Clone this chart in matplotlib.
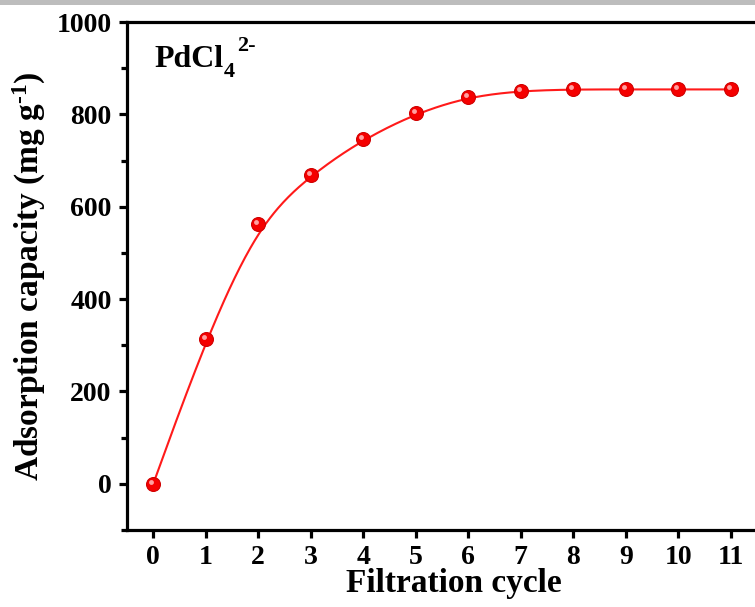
import numpy as np
import matplotlib.pyplot as plt
from matplotlib.patches import Rectangle
from matplotlib.ticker import MultipleLocator
import matplotlib.transforms as mtransforms

cycles = [0, 1, 2, 3, 4, 5, 6, 7, 8, 9, 10, 11]
capacity = [0, 313, 563, 669, 746, 802, 838, 851, 854, 854, 854, 854]


def bspline(px, py, n=40):
    # uniform cubic B-spline with the points as control points (Origin style smoothing)
    px = np.concatenate([[px[0]] * 2, px, [px[-1]] * 2]).astype(float)
    py = np.concatenate([[py[0]] * 2, py, [py[-1]] * 2]).astype(float)
    t = np.linspace(0, 1, n, endpoint=False)
    b0 = (1 - t) ** 3 / 6
    b1 = (3 * t ** 3 - 6 * t ** 2 + 4) / 6
    b2 = (-3 * t ** 3 + 3 * t ** 2 + 3 * t + 1) / 6
    b3 = t ** 3 / 6
    cx, cy = [], []
    for i in range(len(px) - 3):
        cx.append(b0 * px[i] + b1 * px[i + 1] + b2 * px[i + 2] + b3 * px[i + 3])
        cy.append(b0 * py[i] + b1 * py[i + 1] + b2 * py[i + 2] + b3 * py[i + 3])
    cx.append([px[-1]])
    cy.append([py[-1]])
    return np.concatenate(cx), np.concatenate(cy)


plt.rcParams['font.family'] = ['Liberation Serif', 'DejaVu Serif']
plt.rcParams['font.weight'] = 'bold'
plt.rcParams['mathtext.fontset'] = 'custom'
plt.rcParams['mathtext.rm'] = 'Liberation Serif:bold'
plt.rcParams['mathtext.bf'] = 'Liberation Serif:bold'
plt.rcParams['mathtext.default'] = 'bf'

fig = plt.figure(figsize=(7.55, 6.07), dpi=100)
fig.patches.append(Rectangle((0, 1 - 5 / 607), 1, 5 / 607, transform=fig.transFigure,
                             facecolor='#bdbdbd', edgecolor='none'))
ax = fig.add_axes([127 / 755, 1 - 530 / 607, 630 / 755, 508 / 607])

sx, sy = bspline(cycles, capacity)
ax.plot(sx, sy, color='#ff1a1a', lw=1.5, zorder=2)
ax.plot(cycles, capacity, 'o', ms=10, color='#f50000', mec='#d00000', mew=0.8, zorder=3)
hl = mtransforms.offset_copy(ax.transData, fig=fig, x=-1.5, y=1.5, units='points')
ax.plot(cycles, capacity, 'o', ms=3.5, color='#ffa0a0', mec='none', transform=hl, zorder=4)

ax.set_xlim(-0.5, 11.5)
ax.set_ylim(-100, 1000)
ax.set_xticks(cycles)
ax.yaxis.set_major_locator(MultipleLocator(200))
ax.yaxis.set_minor_locator(MultipleLocator(100))

for s in ax.spines.values():
    s.set_linewidth(2.3)
ax.tick_params(axis='both', which='major', direction='out', length=6, width=2.3,
               labelsize=20, pad=5)
ax.tick_params(axis='y', which='minor', direction='out', length=4, width=2.3)
ax.tick_params(top=False, right=False)

ax.set_xlabel('Filtration cycle', fontsize=24, fontweight='bold', labelpad=3)
ax.xaxis.set_label_coords(0.519, -0.075)
ax.set_ylabel('Adsorption capacity (mg g$^{\\text{-}1}$)', fontsize=24, fontweight='bold', labelpad=6)

# PdCl4 2- label built from pieces so the sub/superscripts keep Origin-like sizes
lab = ax.text(0.043, 0.955, 'PdCl', transform=ax.transAxes,
              fontsize=23, fontweight='bold', va='top', ha='left')
ax.annotate('4', xy=(1, 0), xycoords=lab, xytext=(0.3, 1), textcoords='offset points',
            fontsize=16, fontweight='bold', va='center', ha='left')
ax.annotate('2-', xy=(1, 1), xycoords=lab, xytext=(10, -1), textcoords='offset points',
            fontsize=16, fontweight='bold', va='center', ha='left')

plt.savefig('out.png', dpi=100)
